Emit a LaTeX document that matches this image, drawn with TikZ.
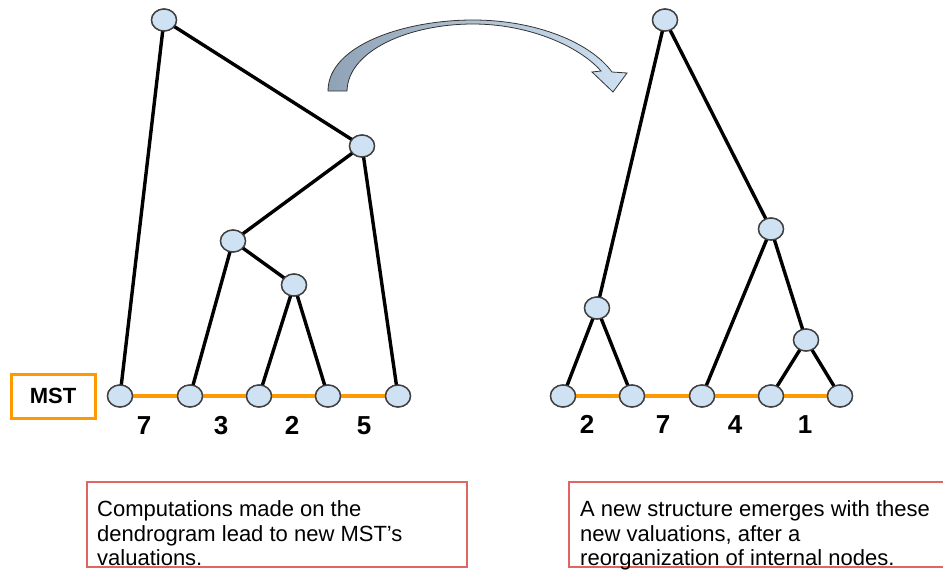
\documentclass[tikz,border=0pt]{standalone}
\usepackage{fontspec}
\setmainfont{Liberation Sans}
\usetikzlibrary{shapes.geometric}
\definecolor{nodefill}{HTML}{CFE2F3}
\definecolor{nodeline}{HTML}{404040}
\definecolor{mstorange}{HTML}{FF9900}
\definecolor{boxred}{HTML}{E06666}
\definecolor{arrowleft}{HTML}{90A2B5}
\tikzset{
  vert/.style={ellipse, draw=nodeline, fill=nodefill, line width=1.4pt, inner sep=0pt, minimum width=25pt, minimum height=22pt},
  branch/.style={line width=3.4pt, black},
  mstline/.style={line width=3.2pt, mstorange},
  weight/.style={font=\fontsize{26}{30}\selectfont\bfseries, inner sep=0pt, anchor=base},
  notebox/.style={draw=boxred, line width=1.6pt},
  notetext/.style={font=\fontsize{22}{25}\selectfont, anchor=base west, inner sep=0pt}
}
\begin{document}
\begin{tikzpicture}[x=1pt,y=-1pt]
\useasboundingbox (0,0) rectangle (943,570);
% left tree nodes
\node[vert] (L0) at (164,20) {};
\node[vert] (LA) at (362,146) {};
\node[vert] (LB) at (233,241) {};
\node[vert] (LC) at (294,285) {};
\node[vert] (l1) at (120,396) {};
\node[vert] (l2) at (190,396) {};
\node[vert] (l3) at (259,396) {};
\node[vert] (l4) at (328,396) {};
\node[vert] (l5) at (398,396) {};
% right tree nodes
\node[vert] (R0) at (665,20) {};
\node[vert] (RD) at (597,308) {};
\node[vert] (RE) at (771,229) {};
\node[vert] (RF) at (806,340) {};
\node[vert] (r1) at (563,396) {};
\node[vert] (r2) at (632,396) {};
\node[vert] (r3) at (702,396) {};
\node[vert] (r4) at (771,396) {};
\node[vert] (r5) at (840,396) {};
% edges
\path[branch] (L0.center) edge (l1.center) edge (LA.center);
\path[branch] (LA.center) edge (LB.center) edge (l5.center);
\path[branch] (LB.center) edge (l2.center) edge (LC.center);
\path[branch] (LC.center) edge (l3.center) edge (l4.center);
\path[mstline] (l1.center) edge (l2.center) (l2.center) edge (l3.center) (l3.center) edge (l4.center) (l4.center) edge (l5.center);
\path[branch] (R0.center) edge (RD.center) edge (RE.center);
\path[branch] (RD.center) edge (r1.center) edge (r2.center);
\path[branch] (RE.center) edge (r3.center) edge (RF.center);
\path[branch] (RF.center) edge (r4.center) edge (r5.center);
\path[mstline] (r1.center) edge (r2.center) (r2.center) edge (r3.center) (r3.center) edge (r4.center) (r4.center) edge (r5.center);
% redraw nodes on top of the edges
\foreach \n in {L0,LA,LB,LC,l1,l2,l3,l4,l5,R0,RD,RE,RF,r1,r2,r3,r4,r5}
  \node[vert] at (\n.center) {};
% weights
\node[weight] (w1) at (144,434) {7};
\node[weight] (w2) at (221,434) {3};
\node[weight] (w3) at (292,434) {2};
\node[weight] (w4) at (364,434) {5};
\node[weight] (v1) at (587,433) {2};
\node[weight] (v2) at (663,433) {7};
\node[weight] (v3) at (735,433) {4};
\node[weight] (v4) at (805,433) {1};
% MST box
\node[draw=mstorange, line width=3pt, minimum width=84pt, minimum height=44pt, inner sep=0pt,
  font=\fontsize{22}{24}\selectfont\bfseries] (mst) at (53,396) {MST};
% curved arrow
\shade[left color=arrowleft, right color=nodefill, draw=black!80, line width=0.8pt]
  (328,91) .. controls (328,45) and (405,20) .. (473,20)
  .. controls (535,20) and (590,42) .. (612,72)
  -- (627,73) -- (613,92) -- (592,72) -- (601,71)
  .. controls (578,45) and (527,24) .. (473,24)
  .. controls (410,24) and (348,50) .. (347,91) -- cycle;
% note boxes
\draw[notebox] (87,482) rectangle (467,567);
\node[notetext] (t1) at (97,516) {Computations made on the};
\node[notetext] (t2) at (97,541) {dendrogram lead to new MST’s};
\node[notetext] (t3) at (97,565) {valuations.};
\draw[notebox] (950,482) -- (569,482) -- (569,567) -- (950,567);
\node[notetext] (s1) at (580,516) {A new structure emerges with these};
\node[notetext] (s2) at (580,541) {new valuations, after a};
\node[notetext] (s3) at (580,565) {reorganization of internal nodes.};
\end{tikzpicture}
\end{document}
